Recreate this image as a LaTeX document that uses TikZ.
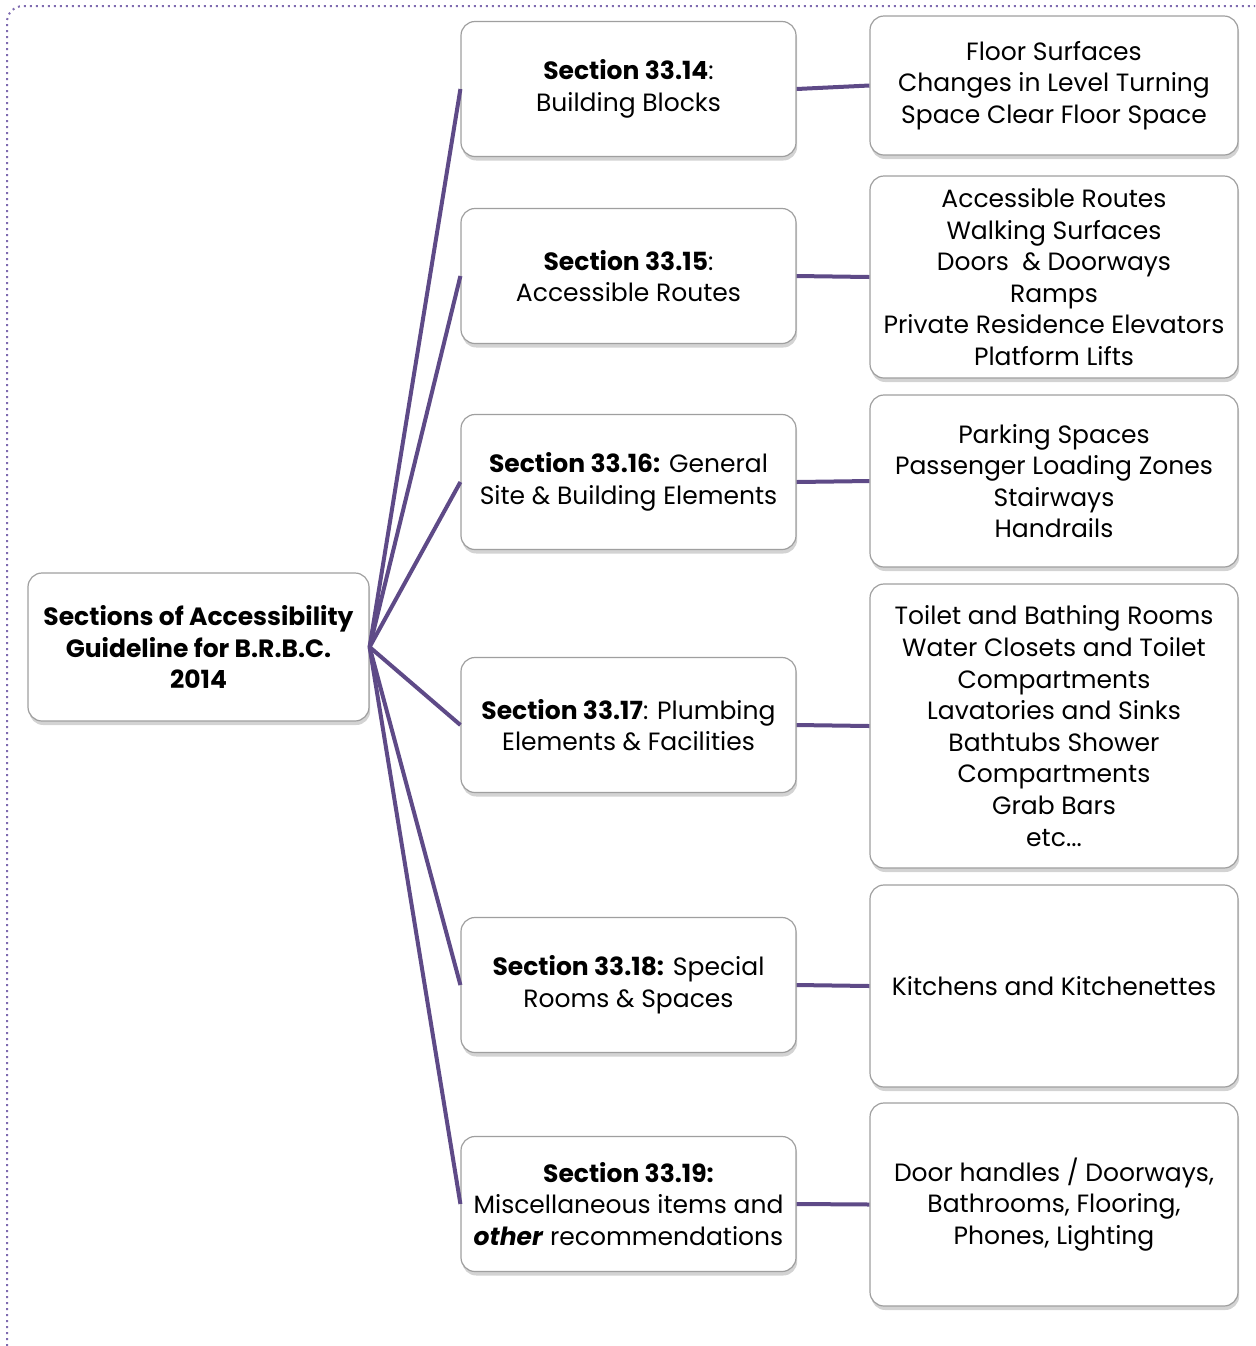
\documentclass[tikz,border=0pt]{standalone}
\usepackage{fontspec}
\setmainfont{Poppins}
\usetikzlibrary{positioning,shadows}
\definecolor{linkpurple}{HTML}{5E4A87}
\definecolor{framepurple}{HTML}{7F6BB0}

\tikzset{
  box/.style={draw=gray!75, line width=0.6pt, fill=white, rounded corners=7pt,
    align=center, inner sep=2pt, font=\fontsize{12.5}{15.8}\selectfont,
    drop shadow={shadow xshift=0.6pt, shadow yshift=-2pt, opacity=0.35}},
  rootbox/.style={box, minimum width=170.5pt, minimum height=74pt},
  secbox/.style={box, minimum width=167.5pt, minimum height=67.5pt},
  itembox/.style={box, minimum width=184pt},
  link/.style={draw=linkpurple, line width=2pt}
}

\begin{document}
\begin{tikzpicture}[x=0.5pt, y=-0.5pt]
  \useasboundingbox (0,0) rectangle (1255,1346);
  % frame
  \draw[framepurple, dotted, line width=1pt, rounded corners=8pt]
    (7,1346) -- (7,6) -- (1255,6);
  % root
  \node[rootbox] (root) at (198.5,647) {\textbf{Sections of Accessibility}\\\textbf{Guideline for B.R.B.C.}\\\textbf{2014}};
  % sections
  \node[secbox] (s14) at (628.5,89) {\textbf{Section 33.14}:\\Building Blocks};
  \node[secbox] (s15) at (628.5,276) {\textbf{Section 33.15}:\\Accessible Routes};
  \node[secbox] (s16) at (628.5,482) {\textbf{Section 33.16:} General\\Site \& Building Elements};
  \node[secbox] (s17) at (628.5,725) {\textbf{Section 33.17}: Plumbing\\Elements \& Facilities};
  \node[secbox] (s18) at (628.5,985) {\textbf{Section 33.18:} Special\\Rooms \& Spaces};
  \node[secbox] (s19) at (628.5,1204) {\textbf{Section 33.19:}\\Miscellaneous items and\\\textbf{\textit{other}} recommendations};
  % items
  \node[itembox, minimum height=69.5pt] (i14) at (1054,85.5) {Floor Surfaces\\Changes in Level Turning\\Space Clear Floor Space};
  \node[itembox, minimum height=101pt] (i15) at (1054,277) {Accessible Routes\\Walking Surfaces\\Doors\ \ \& Doorways\\Ramps\\Private Residence Elevators\\Platform Lifts};
  \node[itembox, minimum height=86pt] (i16) at (1054,481) {Parking Spaces\\Passenger Loading Zones\\Stairways\\Handrails};
  \node[itembox, minimum height=142pt] (i17) at (1054,726) {Toilet and Bathing Rooms\\Water Closets and Toilet\\Compartments\\Lavatories and Sinks\\Bathtubs Shower\\Compartments\\Grab Bars\\etc...};
  \node[itembox, minimum height=101pt] (i18) at (1054,986) {Kitchens and Kitchenettes};
  \node[itembox, minimum height=101.5pt] (i19) at (1054,1204.5) {Door handles / Doorways,\\Bathrooms, Flooring,\\Phones, Lighting};
  % links
  \foreach \s in {14,15,16,17,18,19} {
    \draw[link] (root.east) -- (s\s.west);
    \draw[link] (s\s.east) -- (i\s.west);
  }
\end{tikzpicture}
\end{document}
